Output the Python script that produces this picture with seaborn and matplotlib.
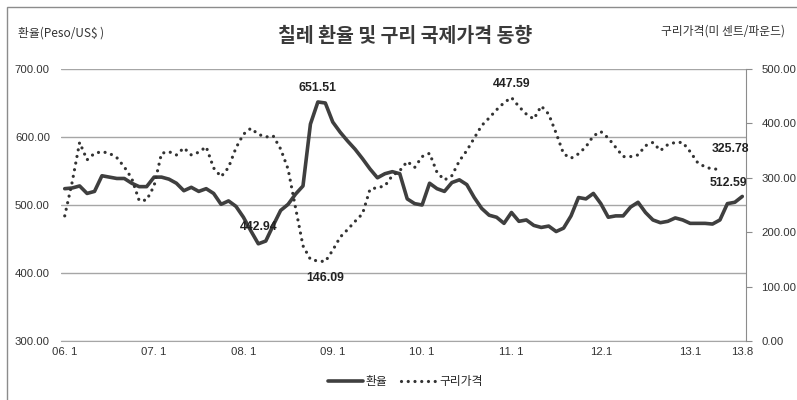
import numpy as np
import pandas as pd
import matplotlib.pyplot as plt
import seaborn as sns
from matplotlib.patches import Rectangle

# monthly series 2006.1 ~ 2013.8
months = [f"{y:02d}.{m}" for y in range(6, 14) for m in range(1, 13)][:92]

fx_rate = [524, 525, 528, 517, 520, 543, 541, 539, 539, 532, 527, 527,
           541, 541, 538, 532, 521, 526, 520, 524, 517, 501, 506, 498,
           482, 462, 442.94, 447, 470, 492, 501, 516, 528, 619, 651.51, 650,
           622, 607, 594, 582, 568, 553, 540, 546, 549, 546, 509, 502,
           500, 532, 524, 520, 533, 537, 530, 511, 495, 485, 482, 473,
           489, 476, 478, 470, 467, 469, 461, 466, 484, 511, 509, 517,
           502, 482, 484, 484, 497, 504, 489, 478, 474, 476, 481, 478,
           473, 473, 473, 472, 478, 502, 504, 512.59]

copper = [230, 292, 365, 333, 345, 348, 345, 337, 320, 299, 258, 259,
          285, 345, 348, 342, 355, 342, 347, 357, 318, 302, 319, 355,
          380, 391, 380, 375, 377, 353, 316, 245, 175, 150, 147, 146.09,
          167, 191, 205, 220, 234, 279, 282, 285, 304, 313, 330, 319,
          339, 345, 310, 296, 304, 331, 350, 373, 396, 410, 425, 438,
          447.59, 431, 417, 408, 432, 417, 382, 344, 336, 344, 357, 377,
          385, 373, 356, 339, 339, 342, 359, 365, 350, 361, 365, 365,
          348, 328, 320, 316, 316, np.nan, np.nan, np.nan]

tick_idx = [0, 12, 24, 36, 48, 60, 72, 84, 91]
tick_labels = ["06. 1", "07. 1", "08. 1", "09. 1", "10. 1", "11. 1", "12.1", "13.1", "13.8"]

# data labels: (month index, text, dx px, dy px)
fx_labels = [(34, "651.51", 0, 14), (26, "442.94", 0, 17), (91, "512.59", -14, 13)]
cu_labels = [(35, "146.09", 0, -16), (60, "447.59", 0, 14), (88, "325.78", 10, 20)]

df = pd.DataFrame({"idx": range(92), "month": months, "fx": fx_rate, "copper": copper})

sns.set_style("white")
plt.rcParams['font.family'] = ['Noto Sans CJK KR', 'DejaVu Sans']
num_font = "Liberation Sans"

fig = plt.figure(figsize=(7.97, 4.0), dpi=100)
fig.patches.append(Rectangle((7 / 797, -0.01), 1.0, 1.0 - 7 / 400 + 0.01, transform=fig.transFigure,
                             fill=False, edgecolor="#8c8c8c", linewidth=1.0))

ax = fig.add_axes([61 / 797, 1 - 341 / 400, (746 - 61) / 797, (341 - 69) / 400])
ax2 = ax.twinx()

line_col = "#3f3f3f"
sns.lineplot(data=df, x="idx", y="fx", ax=ax, color=line_col, linewidth=2.6, label="환율", legend=False)
sns.lineplot(data=df.dropna(), x="idx", y="copper", ax=ax2, color="#333333", linewidth=2.3,
             label="구리가격", legend=False)
cu_line = ax2.lines[0]
cu_line.set_dashes((0.01, 2.1))
cu_line.set_dash_capstyle("round")

ax.set_xlim(-0.5, 91.5)
ax.set_ylim(300, 700)
ax2.set_ylim(0, 500)
ax.set_yticks(np.arange(300, 701, 100))
ax2.set_yticks(np.arange(0, 501, 100))
ax.set_yticklabels([f"{v:.2f}" for v in np.arange(300, 701, 100)])
ax2.set_yticklabels([f"{v:.2f}" for v in np.arange(0, 501, 100)])
ax.set_xticks(tick_idx)
ax.set_xticklabels(tick_labels)
ax.grid(axis="y", color="#a6a6a6", linewidth=1.0)
ax.set_axisbelow(True)
ax.set_xlabel("")
ax.set_ylabel("")
ax2.set_ylabel("")

for a in (ax, ax2):
    for s in ("top", "left"):
        a.spines[s].set_visible(False)
ax.spines["right"].set_visible(False)
ax2.spines["bottom"].set_visible(False)
ax.spines["bottom"].set_color("#a6a6a6")
ax2.spines["right"].set_color("#8c8c8c")
ax.tick_params(axis="both", length=0, labelsize=8.2, colors="#333333", pad=4)
ax.tick_params(axis="y", pad=8)
ax2.tick_params(axis="y", length=4, width=0.8, color="#8c8c8c", labelsize=8.2, labelcolor="#333333", pad=7)
for t in ax.get_xticklabels() + ax.get_yticklabels() + ax2.get_yticklabels():
    t.set_family(num_font)

for i, txt, dx, dy in fx_labels:
    ax.annotate(txt, (i, fx_rate[i]), xytext=(dx * 0.72, dy * 0.72), textcoords="offset points",
                ha="center", va="center", fontsize=8.8, fontweight="bold", color="#222222", family=num_font)
for i, txt, dx, dy in cu_labels:
    ax2.annotate(txt, (i, copper[i]), xytext=(dx * 0.72, dy * 0.72), textcoords="offset points",
                 ha="center", va="center", fontsize=8.8, fontweight="bold", color="#222222", family=num_font)

fig.text(405 / 797, 1 - 36 / 400, "칠레 환율 및 구리 국제가격 동향", ha="center", va="center",
         fontsize=14, fontweight="bold", color="#3a3a3a")
fig.text(18 / 797, 1 - 33 / 400, "환율(Peso/US$ )", ha="left", va="center", fontsize=8.5, color="#333333")
fig.text(785 / 797, 1 - 31 / 400, "구리가격(미 센트/파운드)", ha="right", va="center", fontsize=8.5, color="#333333")

h1 = ax.lines[0]
fig.legend([h1, cu_line], ["환율", "구리가격"], loc="center", bbox_to_anchor=(405 / 797, 1 - 382 / 400),
           ncol=2, frameon=False, fontsize=8.5, handlelength=3.0, handletextpad=0.2, columnspacing=1.2)

fig.savefig("out.png", dpi=100)
